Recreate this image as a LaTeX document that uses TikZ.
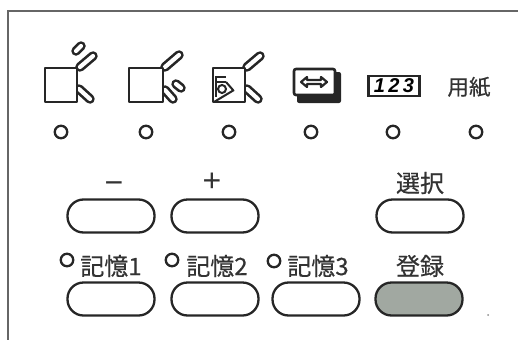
\documentclass[tikz,border=0pt]{standalone}
\usepackage{fontspec}
\setsansfont{Liberation Sans}
\newfontfamily\cjk[FakeBold=0.5]{Noto Sans CJK JP}
\tikzset{
  panelline/.style={draw=black!60, line width=1.5pt},
  led/.style={draw=black!85, fill=white, circle, line width=2.3pt, minimum size=12.5pt, inner sep=0pt},
  keybtn/.style={draw=black!85, fill=white, rectangle, line width=2.3pt, minimum width=87pt, minimum height=33pt, rounded corners=16pt, inner sep=0pt},
  keytext/.style={inner sep=0pt, text=black!80, font=\cjk\fontsize{24}{24}\selectfont},
  sheet/.style={draw=black!85, fill=white, line width=2.3pt, line join=round},
  flapout/.style={draw=black!85, line width=9.5pt, line cap=round},
  flapin/.style={draw=white, line width=4.2pt, line cap=round},
  scribble/.style={draw=black!85, line width=2pt}
}
\begin{document}
\begin{tikzpicture}[x=1pt, y=-1pt]
    \useasboundingbox (0,0) rectangle (518,340);
    % frame
    \draw[panelline] (518,11) -- (8,11) -- (8,340);

    % icon 1
    \draw[flapout] (80,67) -- (93,56);
    \draw[flapin] (80,67) -- (93,56);
    \draw[flapout] (79,89) -- (90,99);
    \draw[flapin] (79,89) -- (90,99);
    \draw[flapout] (76,51) -- (81,46);
    \draw[flapin] (76,51) -- (81,46);
    \draw[sheet] (45,68) rectangle (77,102);

    % icon 2
    \draw[flapout] (165,67) -- (179,55);
    \draw[flapin] (165,67) -- (179,55);
    \draw[flapout] (165,90) -- (173,99);
    \draw[flapin] (165,90) -- (173,99);
    \draw[flapout] (176,84) -- (181,88);
    \draw[flapin] (176,84) -- (181,88);
    \draw[sheet] (129,68) rectangle (163,102);

    % icon 3
    \draw[flapout] (247,67) -- (260,56);
    \draw[flapin] (247,67) -- (260,56);
    \draw[flapout] (247,89) -- (258,99);
    \draw[flapin] (247,89) -- (258,99);
    \draw[sheet] (213,68) rectangle (245,102);
    \draw[scribble] (214,102) -- (234,90);
    \draw[scribble] (222,89) circle (4);
    \draw[scribble] (215,77) -- (226,77);
    \draw[scribble] (215,82) -- (226,82);
    \draw[scribble] (216,77) -- (216,97);
    \draw[scribble] (226,82) -- (233,90);

    % icon 4
    \fill[black!85, rounded corners=2pt] (297,72) rectangle (341,103);
    \draw[sheet, fill=white, rounded corners=2pt, line width=2.6pt] (294,69) rectangle (335,95);
    \draw[black!85, fill=white, line width=2.2pt, line join=round]
      (301,82) -- (307,77) -- (307,80) -- (321,80) -- (321,77) -- (327,82) -- (321,87) -- (321,84) -- (307,84) -- (307,87) -- cycle;

    % icon 5
    \node[draw=black!85, line width=2.8pt, minimum width=51pt, minimum height=20pt, inner sep=0pt,
          font=\sffamily\bfseries\itshape\fontsize{20}{20}\selectfont] (counter) at (394,86) {1\,2\,3};
    \node[keytext, font=\cjk\fontsize{21.5}{21.5}\selectfont] (paper) at (469,87) {用紙};

    % lamps
    \node[led] (lamp1) at (61,132) {};
    \node[led] (lamp2) at (146,132) {};
    \node[led] (lamp3) at (229,132) {};
    \node[led] (lamp4) at (311,132) {};
    \node[led] (lamp5) at (393,132) {};
    \node[led] (lamp6) at (476,132) {};

    % upper keys
    \node[keytext, font=\sffamily\fontsize{32}{32}\selectfont] (minus) at (114,188) {−};
    \node[keytext, font=\sffamily\fontsize{32}{32}\selectfont] (plus) at (212,182) {+};
    \node[keytext] (select) at (420,183) {選択};
    \node[keybtn] (minuskey) at (111,216) {};
    \node[keybtn] (pluskey) at (215,216) {};
    \node[keybtn] (selectkey) at (420,216) {};

    % memory keys
    \node[keytext] (memo1) at (111,266) {記憶1};
    \node[keytext] (memo2) at (217,266) {記憶2};
    \node[keytext] (memo3) at (318,266) {記憶3};
    \node[keytext] (store) at (420,266) {登録};
    \node[led] (memolamp1) at (67,260) {};
    \node[led] (memolamp2) at (172,260) {};
    \node[led] (memolamp3) at (274,261) {};
    \node[keybtn] (memokey1) at (111,299) {};
    \node[keybtn] (memokey2) at (215,299) {};
    \node[keybtn] (memokey3) at (316,299) {};
    \node[keybtn, fill=black!30!green!5!gray!70] (storekey) at (419,299) {};

    % speck
    \fill[black!45] (488,315) circle (1);
\end{tikzpicture}
\end{document}
